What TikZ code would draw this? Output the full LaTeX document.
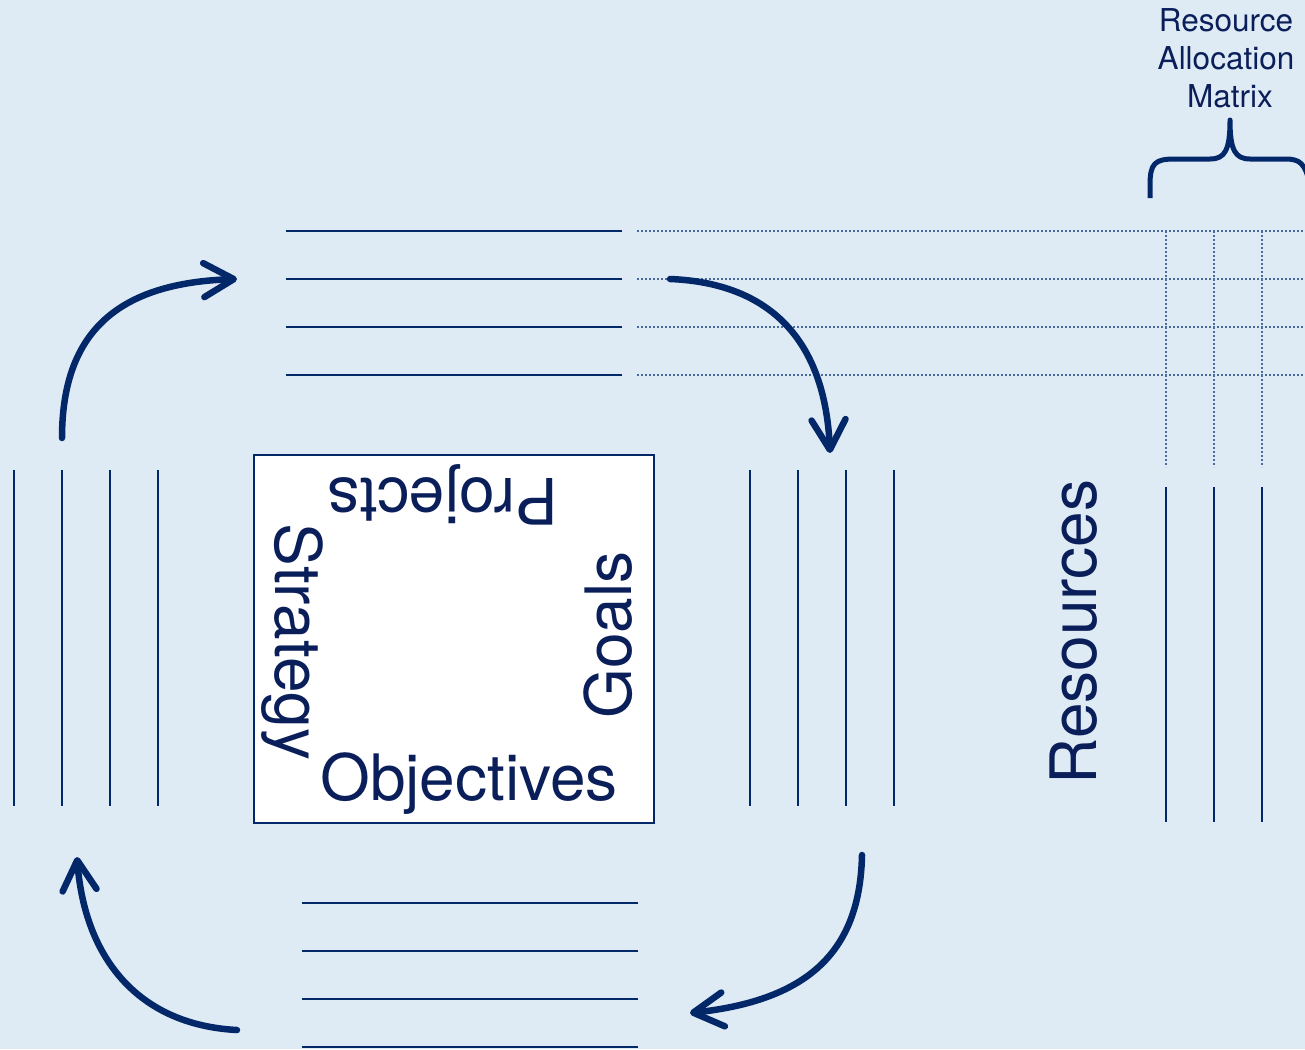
\documentclass[tikz,border=0pt]{standalone}
\usepackage{fontspec}
\setmainfont{TeX Gyre Heros}
\usetikzlibrary{arrows.meta}
\definecolor{bg}{HTML}{DFEBF4}
\definecolor{navy}{HTML}{03286A}
\definecolor{txtc}{HTML}{0A1E5A}
\definecolor{dotc}{HTML}{4B6A9E}
\begin{document}
\begin{tikzpicture}[x=1pt,y=-1pt,
  solidline/.style={navy, line width=2pt},
  dotline/.style={dotc, line width=2pt, dash pattern=on 2pt off 2pt},
  bigarrow/.style={navy, line width=6.5pt, line cap=round, -{Straight Barb[length=30pt,width=34pt,round]}},
  bigtext/.style={text=txtc, font=\fontsize{64}{70}\selectfont, inner sep=0pt, anchor=base},
  smalltext/.style={text=txtc, font=\fontsize{31.5}{37}\selectfont, inner sep=0pt, anchor=base}]
\fill[bg] (0,0) rectangle (1305,1049);
\useasboundingbox (0,0) rectangle (1305,1049);
% line groups
\foreach \y in {231,279,327,375} {
  \draw[solidline] (286,\y) -- (622,\y);
  \draw[dotline] (637,\y) -- (1305,\y);
}
\foreach \x in {1166,1214,1262} {
  \draw[dotline] (\x,231) -- (\x,467);
  \draw[solidline] (\x,487) -- (\x,822);
}
\foreach \x in {14,62,110,158} \draw[solidline] (\x,470) -- (\x,806);
\foreach \x in {750,798,846,894} \draw[solidline] (\x,470) -- (\x,806);
\foreach \y in {903,951,999,1047} \draw[solidline] (302,\y) -- (638,\y);
% centre box
\node[draw=navy, fill=white, line width=2pt, minimum width=400pt, minimum height=368pt, inner sep=0pt] (box) at (454,639) {};
\node[bigtext, rotate=180] (projects) at (443,478) {Projects};
\node[bigtext] (objectives) at (469,800) {Objectives};
\node[bigtext, rotate=-90] (strategy) at (275,642) {Strategy};
\node[bigtext, rotate=90] (goals) at (631,635) {Goals};
\node[bigtext, rotate=90] (resources) at (1096,632) {Resources};
% resource allocation matrix label
\node[smalltext] (rt1) at (1226,32) {Resource};
\node[smalltext] (rt2) at (1226,70) {Allocation};
\node[smalltext] (rt3) at (1230,107) {Matrix};
\draw[navy, line width=5pt, line join=round] (1150,198) -- (1150,185) .. controls (1150,163) and (1155,159) .. (1175,159) -- (1210,159) .. controls (1225,159) and (1230,150) .. (1230,120) .. controls (1230,150) and (1235,159) .. (1250,159) -- (1285,159) .. controls (1300,159) and (1305,163) .. (1310,185);
% cycle arrows
\coordinate (a1s) at (62,438);
\coordinate (a1e) at (237,279);
\coordinate (a2s) at (670,279);
\coordinate (a2e) at (830,453);
\coordinate (a3s) at (862,855);
\coordinate (a3e) at (690,1013);
\coordinate (a4s) at (237,1030);
\coordinate (a4e) at (77,857);
\draw[bigarrow] (a1s) .. controls (62,330) and (120,283) .. (a1e);
\draw[bigarrow] (a2s) .. controls (770,283) and (825,340) .. (a2e);
\draw[bigarrow] (a3s) .. controls (860,950) and (810,1000) .. (a3e);
\draw[bigarrow] (a4s) .. controls (140,1025) and (85,960) .. (a4e);
\end{tikzpicture}
\end{document}
